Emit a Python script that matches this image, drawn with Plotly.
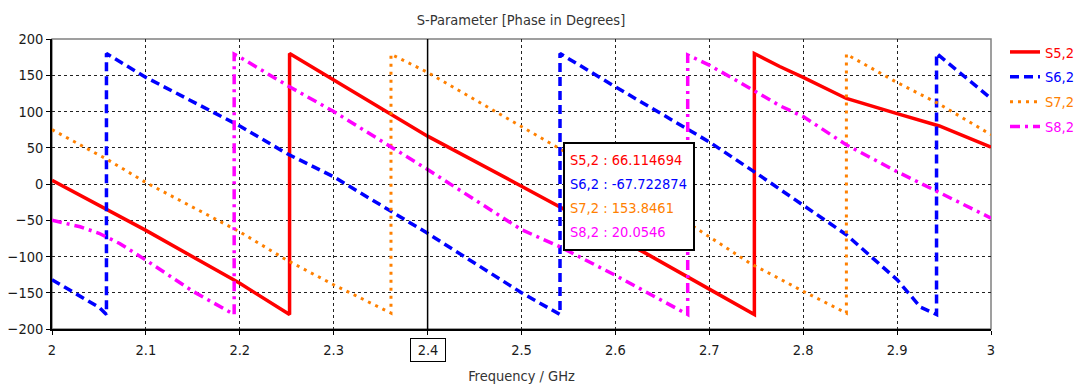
import plotly.graph_objects as go

# ---------------- data ----------------
s52_f = [2.0, 2.1, 2.2, 2.253, 2.253, 2.3, 2.36, 2.4, 2.5, 2.53, 2.6, 2.633, 2.7, 2.748,
         2.748, 2.775, 2.8, 2.846, 2.9, 2.945, 3.0]
s52_p = [5, -64, -137, -180, 180, 144, 97, 66, -3, -24, -73, -96, -145, -180,
         180, 162, 147, 118, 97, 80, 51]

s62_f = [2.0, 2.05, 2.058, 2.058, 2.1, 2.2, 2.25, 2.3, 2.4, 2.5, 2.541, 2.541, 2.6, 2.7,
         2.75, 2.8, 2.846, 2.9, 2.925, 2.942, 2.942, 3.0]
s62_p = [-132, -170, -180, 180, 147, 80, 42, 10, -68, -150, -180, 180, 134, 58,
         15, -29, -70, -132, -170, -180, 180, 118]

s72_f = [2.0, 2.06, 2.1, 2.2, 2.25, 2.3, 2.361, 2.361, 2.4, 2.47, 2.5, 2.539, 2.686, 2.7,
         2.743, 2.8, 2.846, 2.846, 2.9, 2.944, 3.0]
s72_p = [75, 33, 2, -66, -105, -139, -178, 179, 154, 102, 79, 50, -61, -73,
         -109, -148, -178, 179, 140, 111, 68]

s82_f = [2.0, 2.03, 2.05, 2.072, 2.1, 2.15, 2.194, 2.194, 2.2, 2.253, 2.3, 2.4, 2.5, 2.54,
         2.6, 2.677, 2.677, 2.7, 2.75, 2.775, 2.8, 2.846, 2.9, 2.943, 3.0]
s82_p = [-50, -59, -68, -82, -105, -148, -180, 179, 175, 134, 100, 20, -63, -86,
         -126, -180, 178, 164, 127, 108, 93, 54, 17, -10, -47]

series_names = ["S5,2", "S6,2", "S7,2", "S8,2"]
series_colors = ["#ff0000", "#0000ff", "#ff8000", "#ff00ff"]
marker_freq = 2.4
marker_values = ["66.114694", "-67.722874", "153.8461", "20.0546"]

x_tickvals = [2.0, 2.1, 2.2, 2.3, 2.4, 2.5, 2.6, 2.7, 2.8, 2.9, 3.0]
x_ticktext = ["2", "2.1", "2.2", "2.3", "", "2.5", "2.6", "2.7", "2.8", "2.9", "3"]
y_tickvals = [-200, -150, -100, -50, 0, 50, 100, 150, 200]

title_text = "S-Parameter [Phase in Degrees]"
x_title = "Frequency / GHz"

# ---------------- figure ----------------
FONT = "DejaVu Sans Condensed, Noto Sans, DejaVu Sans, sans-serif"
FS = 14.5
W, H = 1089, 385
L, R, T, B = 52, 98, 39, 56
PW, PH = W - L - R, H - T - B

def px_x(px):
    return (px - L) / PW

def px_y(py):
    return 1 - (py - T) / PH

styles = [
    dict(width=3.5, dash="solid"),
    dict(width=3.5, dash="9px,5px"),
    dict(width=3, dash="3px,5px"),
    dict(width=3.5, dash="10px,5px,3px,5px"),
]
data = [(s52_f, s52_p), (s62_f, s62_p), (s72_f, s72_p), (s82_f, s82_p)]

fig = go.Figure()
for (f, p), name, col, st in zip(data, series_names, series_colors, styles):
    fig.add_trace(go.Scatter(
        x=f, y=p, mode="lines",
        name=f"<span style='color:{col}'>{name}</span>",
        legendgroup=name,
        line=dict(color=col, width=st["width"], dash=st["dash"]),
    ))

fig.update_layout(
    width=W, height=H,
    margin=dict(l=L, r=R, t=T, b=B, pad=0, autoexpand=False),
    paper_bgcolor="white", plot_bgcolor="white",
    font=dict(family=FONT, size=FS, color="#1a1a1a"),
    title=dict(text=title_text, x=px_x(521), xref="paper", xanchor="center",
               y=1 - 20 / H, yref="container", yanchor="middle",
               font=dict(family=FONT, size=FS, color="#333333")),
    showlegend=True,
    legend=dict(x=px_x(1005), xanchor="left", y=px_y(36), yanchor="top",
                font=dict(family=FONT, size=FS), tracegroupgap=3,
                traceorder="grouped", bgcolor="rgba(0,0,0,0)", borderwidth=0),
    xaxis=dict(range=[2, 3], tickvals=x_tickvals, ticktext=x_ticktext,
               automargin=False,
               showgrid=True, gridcolor="#222222", gridwidth=1, griddash="3px,3px",
               zeroline=False, showline=True, linecolor="black", linewidth=1.5,
               ticks="outside", ticklen=4, tickcolor="black", tickwidth=1,
               ticklabelstandoff=3,
               title=dict(text=x_title, standoff=14, font=dict(size=FS, color="#333333"))),
    yaxis=dict(range=[-200, 200], tickvals=y_tickvals, automargin=False,
               showgrid=True, gridcolor="#222222", gridwidth=1, griddash="3px,3px",
               zeroline=False, showline=True, linecolor="black", linewidth=1.5,
               ticks="outside", ticklen=4, tickcolor="black", tickwidth=1),
)

# frame (grey top/right)
fig.add_shape(type="rect", xref="paper", yref="paper", x0=0, x1=1, y0=0, y1=1,
              line=dict(color="#808080", width=1.5), layer="below")
# marker line
fig.add_shape(type="line", xref="x", yref="paper", x0=marker_freq, x1=marker_freq,
              y0=0, y1=1, line=dict(color="black", width=1.5))
# boxed marker tick label
fig.add_annotation(x=marker_freq, xref="x", y=px_y(350), yref="paper",
                   text=f"{marker_freq:g}", showarrow=False, width=34, height=22,
                   borderpad=0, borderwidth=1, bordercolor="black", bgcolor="white",
                   xanchor="center", yanchor="middle",
                   font=dict(family=FONT, size=FS, color="#1a1a1a"))
# readout box
fig.add_shape(type="rect", xref="paper", yref="paper",
              x0=px_x(564), x1=px_x(694), y0=px_y(250), y1=px_y(143),
              line=dict(color="black", width=2), fillcolor="white", layer="above")
for i, (name, col, val) in enumerate(zip(series_names, series_colors, marker_values)):
    fig.add_annotation(x=px_x(568), xref="paper", y=px_y(159.5 + 24.3 * i), yref="paper",
                       text=f"{name} : {val}", showarrow=False,
                       xanchor="left", yanchor="middle",
                       font=dict(family=FONT, size=FS, color=col))

fig.write_html("out.html")
